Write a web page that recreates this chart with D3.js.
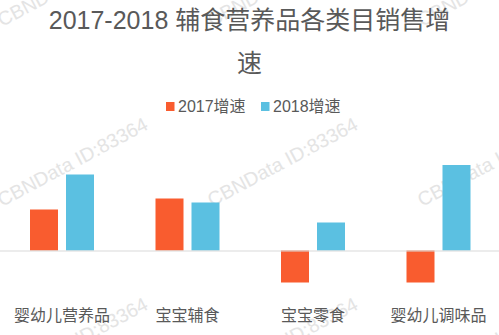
<!DOCTYPE html>
<html>
<head>
<meta charset="utf-8">
<script src="https://cdn.jsdelivr.net/npm/d3@7/dist/d3.min.js"></script>
<style>
  html, body { margin: 0; padding: 0; background: #ffffff; }
  svg { display: block; }
  text { font-family: "Liberation Sans", Arial, "Noto Sans CJK SC", sans-serif; }
</style>
</head>
<body>
<svg id="chart" width="499" height="335"></svg>
<script>
// Category names, series names and growth values (%)
const categories = ["婴幼儿营养品", "宝宝辅食", "宝宝零食", "婴幼儿调味品"];
const seriesNames = ["2017增速", "2018增速"];
const growth2017 = [41, 52, -32, -32];
const growth2018 = [76, 48, 28, 85.5];
const titleLines = ["2017-2018 辅食营养品各类目销售增", "速"];
const watermarkText = "CBNData ID:83364";

const colors = ["#f95c2f", "#5bc0e1"];
const textColor = "#595959";

const W = 499, H = 335;
const svg = d3.select("#chart");

// Background watermark, tiled diagonally
const wm = svg.append("g");
for (let r = 0; r < 3; r++) {
  for (let c = 0; c < 3; c++) {
    const x = 2 + 210 * c, y = 27 + 180 * r;
    wm.append("text")
      .attr("transform", `translate(${x},${y}) rotate(-28)`)
      .attr("font-size", 19.5)
      .attr("fill", "#e4e4e4")
      .text(watermarkText);
  }
}

// Title
svg.append("text")
  .attr("text-anchor", "middle")
  .attr("fill", textColor)
  .attr("font-size", 25)
  .selectAll("tspan")
  .data(titleLines)
  .join("tspan")
  .attr("x", 249.5)
  .attr("y", (d, i) => 29 + i * 43)
  .text(d => d);

// Legend
const legendX = [166, 261];
const legend = svg.append("g")
  .selectAll("g")
  .data(seriesNames)
  .join("g")
  .attr("transform", (d, i) => `translate(${legendX[i]},0)`);
legend.append("rect")
  .attr("x", 0).attr("y", 102)
  .attr("width", 8.5).attr("height", 9)
  .attr("fill", (d, i) => colors[i]);
legend.append("text")
  .attr("x", 12).attr("y", 111.5)
  .attr("font-size", 16)
  .attr("fill", textColor)
  .text(d => d);

// Scales
const x0 = d3.scaleBand().domain(categories).range([-0.75, 501.25]);
const x1 = d3.scaleBand()
  .domain(seriesNames)
  .range([x0.bandwidth() / 2 - 32, x0.bandwidth() / 2 + 32])
  .paddingInner(8 / 36);
const y = d3.scaleLinear().domain([-40, 100]).range([290.5, 150.5]);

const rows = categories.map((c, i) => ({
  category: c,
  values: [growth2017[i], growth2018[i]]
}));

// Bars
const groups = svg.append("g")
  .selectAll("g")
  .data(rows)
  .join("g")
  .attr("transform", d => `translate(${x0(d.category)},0)`);
groups.selectAll("rect")
  .data(d => d.values.map((v, i) => ({ series: seriesNames[i], value: v, idx: i })))
  .join("rect")
  .attr("x", d => x1(d.series))
  .attr("width", x1.bandwidth())
  .attr("y", d => y(Math.max(0, d.value)))
  .attr("height", d => Math.abs(y(d.value) - y(0)))
  .attr("fill", d => colors[d.idx]);

// Zero line
svg.append("line")
  .attr("x1", 0).attr("x2", W)
  .attr("y1", y(0) + 0.5).attr("y2", y(0) + 0.5)
  .attr("stroke", "#d9d9d9")
  .attr("stroke-width", 1);

// Category labels
svg.append("g")
  .selectAll("text")
  .data(categories)
  .join("text")
  .attr("x", d => x0(d) + x0.bandwidth() / 2)
  .attr("y", 320.5)
  .attr("text-anchor", "middle")
  .attr("font-size", 16)
  .attr("fill", textColor)
  .text(d => d);
</script>
</body>
</html>
